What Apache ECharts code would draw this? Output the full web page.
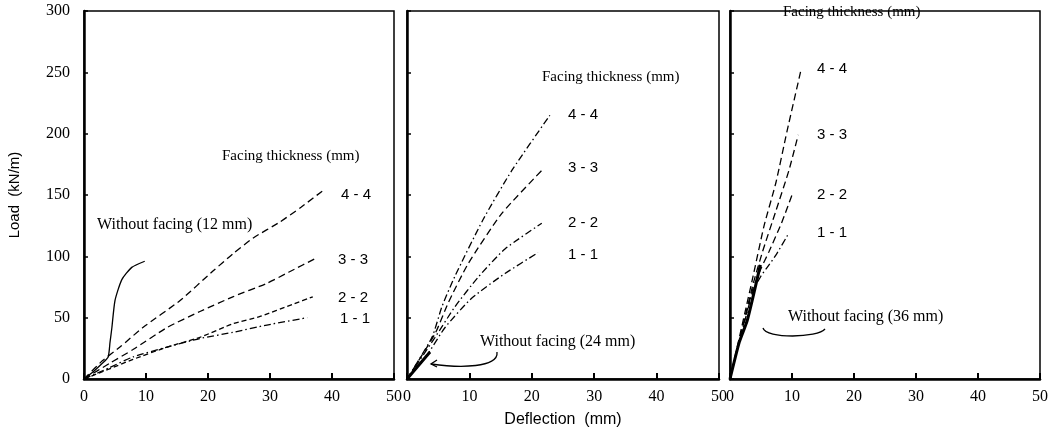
<!DOCTYPE html>
<html>
<head>
<meta charset="utf-8">
<script src="https://cdn.jsdelivr.net/npm/echarts@6.0.0/dist/echarts.min.js"></script>
<style>
  html, body { margin: 0; padding: 0; background: #fff; }
  #chart { width: 1058px; height: 435px; }
</style>
</head>
<body>
<div id="chart"></div>
<script>
// tick labels
const xTicks = [0, 10, 20, 30, 40, 50];
const yTicks = [0, 50, 100, 150, 200, 250, 300];

// panel 1 — without facing 12 mm  [deflection mm, load kN/m]
const wf12 = [[0, 0], [1.5, 6], [3, 13], [3.9, 18], [4.2, 30], [4.5, 42], [5, 64], [6.1, 81], [7.7, 91], [9.8, 96]];
const p1_44 = [[0, 0], [3, 15], [5.8, 26], [9.5, 42], [15.5, 64], [20.8, 88], [24, 102], [27.3, 115], [31.6, 128], [35, 140], [38.9, 155]];
const p1_33 = [[0, 0], [4.2, 13], [7.9, 24], [13.4, 42], [18.7, 55], [24, 67], [29.5, 78], [33, 87], [37.6, 99]];
const p1_22 = [[0, 0], [4, 8], [7.9, 16], [13.4, 26], [18.7, 34], [24, 45], [28.4, 51], [33.7, 61], [36.9, 67]];
const p1_11 = [[0, 0], [4, 9], [7.9, 18], [13.4, 26], [18.7, 33], [24, 38], [29.5, 44], [36, 50]];

// panel 2 — without facing 24 mm
const wf24 = [[0, 0], [1.5, 9], [3, 18], [3.7, 22]];
const p2_44 = [[0, 0], [4, 34], [5.6, 59], [7.7, 84], [12.2, 130], [16.8, 170], [22.9, 215]];
const p2_33 = [[0, 0], [4.5, 37], [6.6, 62], [9.8, 94], [15.2, 135], [21.6, 170]];
const p2_22 = [[0, 0], [4.5, 34], [7.7, 59], [11.4, 83], [15.7, 106], [21.6, 127]];
const p2_11 = [[0, 0], [3.4, 21], [6.1, 42], [10.4, 66], [15.7, 86], [21, 103]];

// panel 3 — without facing 36 mm
const wf36 = [[0, 0], [1.5, 30], [2.8, 48], [4.9, 93]];
const p3_44 = [[0, 0], [3.6, 81], [5.5, 125], [7.4, 160], [9.2, 202], [11.5, 253]];
const p3_33 = [[0, 0], [3.6, 75], [5.2, 103], [7.4, 137], [9.5, 170], [11, 199]];
const p3_22 = [[0, 0], [3.6, 72], [5, 90], [6.3, 104], [8.3, 127], [10, 150]];
const p3_11 = [[0, 0], [3.6, 70], [5, 84], [6, 91], [7.4, 101], [9.5, 119]];

const serif = "'Liberation Serif', 'DejaVu Serif', serif";
const sans = "'Liberation Sans', Arial, sans-serif";

const DASH = [7, 4];
const DASHDOT = [7, 3, 1.5, 3];

const chart = echarts.init(document.getElementById("chart"));

const grids = [
  { left: 84, top: 11, width: 310, height: 368 },
  { left: 407, top: 11, width: 312, height: 368 },
  { left: 730, top: 11, width: 310, height: 368 },
].map((g) => ({ ...g, show: true, borderColor: "#000", borderWidth: 1.5, backgroundColor: "transparent" }));

function xAxis(i) {
  return {
    gridIndex: i,
    type: "value",
    min: 0,
    max: 50,
    interval: 10,
    splitLine: { show: false },
    axisLine: { lineStyle: { color: "#000", width: 2.5 } },
    axisTick: { inside: true, length: 6, lineStyle: { color: "#000", width: 2 } },
    axisLabel: { color: "#000", fontFamily: serif, fontSize: 16, margin: 10, formatter: (v) => (xTicks.includes(v) ? String(v) : "") },
    name: i === 1 ? "Deflection  (mm)" : "",
    nameLocation: "middle",
    nameGap: 33,
    nameTextStyle: { color: "#000", fontFamily: sans, fontSize: 16 },
  };
}

function yAxis(i) {
  return {
    gridIndex: i,
    type: "value",
    min: 0,
    max: 300,
    interval: 50,
    splitLine: { show: false },
    axisLine: { lineStyle: { color: "#000", width: 2.5 } },
    axisTick: { inside: true, length: 4, lineStyle: { color: "#000", width: 1.5 } },
    axisLabel: { show: i === 0, color: "#000", fontFamily: serif, fontSize: 16, margin: 14, formatter: (v) => (yTicks.includes(v) ? String(v) : "") },
    name: i === 0 ? "Load  (kN/m)" : "",
    nameLocation: "middle",
    nameGap: 62,
    nameRotate: 90,
    nameTextStyle: { color: "#000", fontFamily: sans, fontSize: 15 },
  };
}

function line(name, data, i, type, width) {
  return {
    name,
    type: "line",
    xAxisIndex: i,
    yAxisIndex: i,
    data,
    smooth: 0.2,
    symbol: "none",
    lineStyle: { color: "#000", width: width || 1.3, type },
    silent: true,
  };
}

const series = [
  line("Without facing (12 mm)", wf12, 0, "solid", 1.3),
  line("4-4", p1_44, 0, DASH),
  line("3-3", p1_33, 0, DASH),
  line("2-2", p1_22, 0, [5, 3]),
  line("1-1", p1_11, 0, DASHDOT),

  line("Without facing (24 mm)", wf24, 1, "solid", 3),
  line("4-4", p2_44, 1, DASHDOT),
  line("3-3", p2_33, 1, DASH),
  line("2-2", p2_22, 1, DASHDOT),
  line("1-1", p2_11, 1, DASHDOT),

  line("Without facing (36 mm)", wf36, 2, "solid", 3),
  line("4-4", p3_44, 2, DASH),
  line("3-3", p3_33, 2, DASH),
  line("2-2", p3_22, 2, DASH),
  line("1-1", p3_11, 2, DASHDOT),
];

function txt(text, x, y, size, font) {
  return {
    type: "text",
    left: x,
    top: y - Math.round(size / 2),
    style: { text, fill: "#000", font: size + "px " + (font || serif) },
  };
}

const graphic = [
  txt("Facing thickness (mm)", 222, 157, 15),
  txt("4 - 4", 341, 195, 15, sans),
  txt("3 - 3", 338, 260, 15, sans),
  txt("2 - 2", 338, 298, 15, sans),
  txt("1 - 1", 340, 319, 15, sans),
  txt("Without facing (12 mm)", 97, 225, 16),

  txt("Facing thickness (mm)", 542, 78, 15),
  txt("4 - 4", 568, 115, 15, sans),
  txt("3 - 3", 568, 168, 15, sans),
  txt("2 - 2", 568, 223, 15, sans),
  txt("1 - 1", 568, 255, 15, sans),
  txt("Without facing (24 mm)", 480, 342, 16),

  txt("Facing thickness (mm)", 783, 13, 15),
  txt("4 - 4", 817, 69, 15, sans),
  txt("3 - 3", 817, 135, 15, sans),
  txt("2 - 2", 817, 195, 15, sans),
  txt("1 - 1", 817, 233, 15, sans),
  txt("Without facing (36 mm)", 788, 317, 16),

  // leader arrows
  {
    type: "bezierCurve",
    shape: { x1: 497, y1: 352, cpx1: 499, cpy1: 368, cpx2: 460, cpy2: 368, x2: 431, y2: 364 },
    style: { stroke: "#000", lineWidth: 1.3, fill: null },
  },
  {
    type: "polyline",
    shape: { points: [[437, 360], [431, 364], [437, 367]] },
    style: { stroke: "#000", lineWidth: 1.3, fill: null },
  },
  {
    type: "bezierCurve",
    shape: { x1: 763, y1: 328, cpx1: 766, cpy1: 339, cpx2: 818, cpy2: 338, x2: 825, y2: 329 },
    style: { stroke: "#000", lineWidth: 1.3, fill: null },
  },
];

chart.setOption({
  animation: false,
  backgroundColor: "#fff",
  grid: grids,
  xAxis: [0, 1, 2].map(xAxis),
  yAxis: [0, 1, 2].map(yAxis),
  series,
  graphic,
});
</script>
</body>
</html>
